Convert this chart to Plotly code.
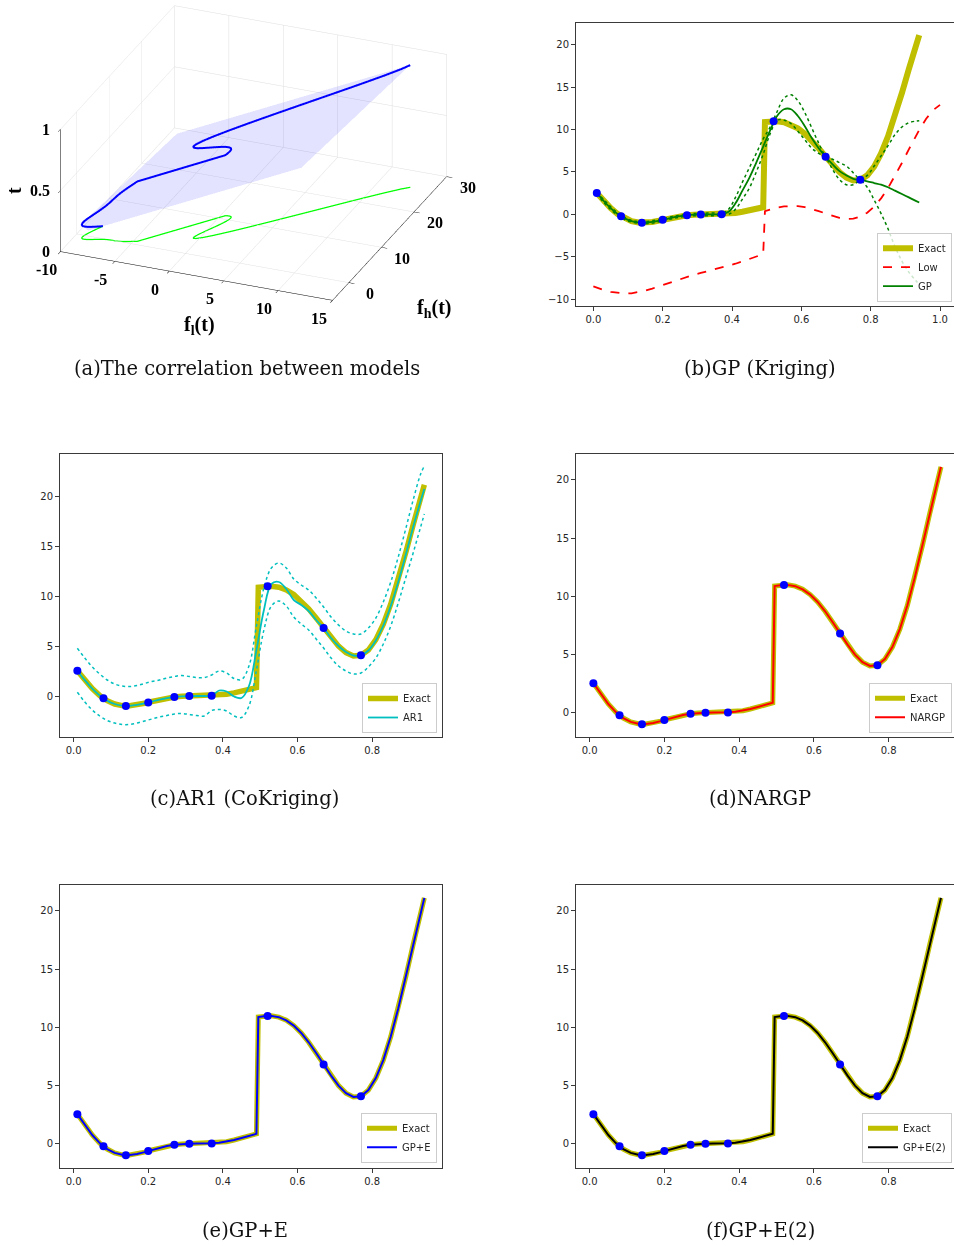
import plotly.graph_objects as go

# ---------------- data ----------------
# common x grid for the high-fidelity curves
x_grid = [0.01, 0.03, 0.05, 0.07, 0.09, 0.11, 0.13, 0.15, 0.17, 0.19, 0.21, 0.23, 0.25,
          0.27, 0.29, 0.31, 0.33, 0.35, 0.37, 0.39, 0.41, 0.43, 0.45, 0.47, 0.49, 0.495,
          0.51, 0.53, 0.55, 0.57, 0.59, 0.61, 0.63, 0.65, 0.67, 0.69, 0.71, 0.73, 0.75,
          0.77, 0.79, 0.81, 0.83, 0.85, 0.87, 0.89, 0.91, 0.93, 0.94]
y_exact = [2.533, 1.583, 0.738, 0.046, -0.469, -0.800, -0.961, -0.978, -0.889, -0.731,
           -0.545, -0.364, -0.210, -0.100, -0.034, -0.005, 0.000, 0.002, 0.021, 0.073,
           0.168, 0.308, 0.483, 0.671, 0.841, 10.877,
           10.958, 10.980, 10.871, 10.599, 10.146, 9.511, 8.713, 7.791, 6.808, 5.843,
           4.986, 4.342, 4.007, 4.070, 4.598, 5.634, 7.180, 9.201, 11.619, 14.312,
           17.118, 19.853, 21.122]

# low-fidelity model
x_low = [0.0, 0.01, 0.03, 0.05, 0.07, 0.09, 0.11, 0.13, 0.15, 0.17, 0.19, 0.21, 0.23, 0.25,
         0.27, 0.29, 0.31, 0.33, 0.35, 0.37, 0.39, 0.41, 0.43, 0.45, 0.47, 0.49, 0.495,
         0.51, 0.53, 0.55, 0.57, 0.59, 0.61, 0.63, 0.65, 0.67, 0.69, 0.71, 0.73, 0.75,
         0.77, 0.79, 0.81, 0.83, 0.85, 0.87, 0.89, 0.91, 0.93, 0.94, 0.96, 0.98, 1.0]
y_low = [-8.486, -8.634, -8.909, -9.131, -9.277, -9.335, -9.300, -9.181, -8.989, -8.745,
         -8.466, -8.173, -7.882, -7.605, -7.350, -7.117, -6.903, -6.700, -6.499, -6.290,
         -6.064, -5.816, -5.546, -5.259, -4.965, -4.680, 0.389,
         0.579, 0.790, 0.936, 0.999, 0.973, 0.856, 0.657, 0.396, 0.104, -0.179, -0.407,
         -0.529, -0.497, -0.265, 0.199, 0.917, 1.890, 3.101, 4.510, 6.056, 7.659, 9.227,
         9.961, 11.277, 12.294, 12.915]

# grid for the smooth surrogate predictions
x_pred = [0.01, 0.03, 0.05, 0.07, 0.09, 0.11, 0.13, 0.15, 0.17, 0.19, 0.21, 0.23, 0.25,
          0.27, 0.29, 0.31, 0.33, 0.35, 0.37, 0.39, 0.41, 0.43, 0.45, 0.47, 0.49,
          0.51, 0.53, 0.55, 0.57, 0.59, 0.61, 0.63, 0.65, 0.67, 0.69, 0.71, 0.73, 0.75,
          0.77, 0.79, 0.81, 0.83, 0.85, 0.87, 0.89, 0.91, 0.93, 0.94]

# GP (Kriging) mean and bounds
gp_mean = [2.53, 1.58, 0.74, 0.05, -0.47, -0.80, -0.96, -0.98, -0.89, -0.73, -0.55, -0.36,
           -0.21, -0.10, -0.03, -0.01, 0.00, 0.00, 0.02, 0.30, 1.30, 2.80, 4.30, 6.10, 8.00,
           9.90, 11.60, 12.40, 12.40, 11.60, 10.40, 9.00, 7.80, 6.80, 5.90, 5.10, 4.60, 4.20,
           4.07, 3.90, 3.70, 3.50, 3.20, 2.80, 2.40, 2.00, 1.60, 1.40]
gp_upper = [2.60, 1.75, 0.90, 0.20, -0.35, -0.70, -0.85, -0.85, -0.75, -0.60, -0.42, -0.24,
            -0.10, 0.00, 0.10, 0.12, 0.15, 0.15, 0.10, 0.60, 2.00, 3.80, 5.50, 7.20, 8.90,
            10.30, 12.10, 13.70, 14.10, 13.40, 12.00, 10.20, 8.40, 6.90, 6.50, 6.10, 5.70,
            4.90, 4.17, 4.60, 5.70, 6.90, 8.10, 9.40, 10.30, 10.80, 11.00, 11.05]
gp_lower = [2.45, 1.40, 0.58, -0.10, -0.60, -0.90, -1.07, -1.10, -1.03, -0.86, -0.68, -0.48,
            -0.32, -0.20, -0.16, -0.14, -0.15, -0.15, -0.06, 0.00, 0.60, 1.80, 3.10, 5.00,
            7.10, 9.50, 11.10, 11.10, 10.70, 9.80, 8.80, 7.80, 7.20, 6.70, 5.30, 4.10, 3.50,
            3.50, 3.97, 3.20, 1.70, 0.10, -1.70, -3.80, -5.50, -6.80, -7.80, -8.25]

# AR1 (CoKriging) mean and bounds
ar1_mean = [2.53, 1.58, 0.74, 0.05, -0.47, -0.80, -0.96, -0.98, -0.89, -0.73, -0.55, -0.36,
            -0.21, -0.10, -0.03, -0.01, 0.00, 0.00, 0.02, 0.55, 0.45, -0.05, -0.20, 1.00,
            4.60, 8.60, 11.20, 11.40, 10.70, 9.60, 9.10, 8.50, 7.60, 6.80, 5.80, 5.00, 4.40,
            4.05, 4.07, 4.55, 5.55, 7.05, 9.00, 11.40, 14.10, 16.90, 19.50, 20.70]
ar1_upper = [4.77, 3.80, 2.90, 2.20, 1.60, 1.20, 1.00, 0.95, 1.05, 1.25, 1.45, 1.60, 1.80,
             1.95, 2.05, 1.95, 1.85, 1.85, 2.10, 2.50, 2.30, 1.75, 1.65, 3.00, 7.00, 10.80,
             12.80, 13.30, 12.80, 11.70, 11.10, 10.60, 9.80, 8.90, 7.90, 7.10, 6.50, 6.20,
             6.20, 6.80, 7.80, 9.40, 11.40, 13.90, 16.70, 19.60, 22.20, 23.00]
ar1_lower = [0.37, -0.60, -1.40, -2.00, -2.45, -2.70, -2.85, -2.85, -2.70, -2.50, -2.30,
             -2.10, -1.95, -1.80, -1.75, -1.85, -1.95, -2.00, -1.45, -1.35, -1.50, -2.00,
             -2.15, -1.00, 2.60, 6.60, 9.00, 9.50, 9.00, 7.90, 7.20, 6.60, 5.70, 4.80, 3.80,
             3.00, 2.50, 2.20, 2.30, 2.90, 3.80, 5.20, 7.00, 9.30, 11.80, 14.30, 16.90, 18.20]

# NARGP / GP+E / GP+E(2) predictions coincide with the exact curve
nargp_mean = y_exact
gpe_mean = y_exact
gpe2_mean = y_exact

# high-fidelity observations
x_obs = [0.01, 0.08, 0.14, 0.20, 0.27, 0.31, 0.37, 0.52, 0.67, 0.77]
y_obs = [2.53, -0.23, -0.99, -0.64, -0.10, -0.01, 0.02, 10.98, 6.81, 4.07]

# 3-D correlation curve (f_l(t), f_h(t), t)
t_3d = x_low
fl_3d = y_low
fh_3d = [3.027] + y_exact + [23.354, 24.988, 25.830]
# plane patch f_h = 2 f_l - 20 t + 20 over the data box, clipped to 0 <= t <= 1
plane_fl = [-9.34, -0.50, 12.90, 2.90, -9.34]
plane_fh = [-0.99, -0.99, 25.83, 25.83, 1.32]
plane_t = [0.116, 1.0, 1.0, 0.0, 0.0]

# 3-D axis ticks
fl_ticks = [-10, -5, 0, 5, 10, 15]
fh_ticks = [0, 10, 20, 30]
t_ticks = [0, 0.5, 1]
t_tick_text = ['0', '0.5', '1']

captions = ["(a)The correlation between models", "(b)GP (Kriging)", "(c)AR1 (CoKriging)",
            "(d)NARGP", "(e)GP+E", "(f)GP+E(2)"]

# ---------------- styling ----------------
W, H = 954, 1246
C_EXACT = '#bfbf00'
C_DOT = '#0000ff'
FL_RANGE = [-10, 15]
FH_RANGE = [-5, 30]
T_RANGE = [0, 1]


def px(xp):
    return xp / W


def py(yp):
    return 1 - yp / H


fig = go.Figure()

# ---- (a) 3-D ----
fig.add_trace(go.Mesh3d(x=plane_fl, y=plane_fh, z=plane_t, i=[0, 0, 0], j=[1, 2, 3], k=[2, 3, 4],
                        color='blue', opacity=0.11, flatshading=True,
                        lighting=dict(ambient=1, diffuse=0, specular=0, roughness=1, fresnel=0),
                        hoverinfo='skip', showscale=False, scene='scene', showlegend=False))
fig.add_trace(go.Scatter3d(x=fl_3d, y=fh_3d, z=[0] * len(t_3d), mode='lines',
                           line=dict(color='#00ff00', width=2.5), scene='scene', showlegend=False))
fig.add_trace(go.Scatter3d(x=fl_3d, y=fh_3d, z=t_3d, mode='lines',
                           line=dict(color='#0000ff', width=4), scene='scene', showlegend=False))


def add_panel(n, traces, leg):
    xa = 'x' if n == 1 else f'x{n}'
    ya = 'y' if n == 1 else f'y{n}'
    for tr in traces:
        tr.update(xaxis=xa, yaxis=ya, legend=leg)
        fig.add_trace(tr)


def exact_tr(width, show=True):
    return go.Scatter(x=x_grid, y=y_exact, mode='lines', name='Exact',
                      line=dict(color=C_EXACT, width=width), showlegend=show)


def obs_tr():
    return go.Scatter(x=x_obs, y=y_obs, mode='markers', marker=dict(color=C_DOT, size=8),
                      showlegend=False)


def dotted(y, color):
    return go.Scatter(x=x_pred, y=y, mode='lines', line=dict(color=color, width=1.5, dash='dot',
                      shape='spline'), showlegend=False)


# (b) GP
add_panel(1, [
    exact_tr(6),
    go.Scatter(x=x_low, y=y_low, mode='lines', name='Low',
               line=dict(color='#ff0000', width=1.8, dash='dash')),
    go.Scatter(x=x_pred, y=gp_mean, mode='lines', name='GP',
               line=dict(color='#008000', width=1.8, shape='spline')),
    dotted(gp_upper, '#008000'),
    dotted(gp_lower, '#008000'),
    obs_tr(),
], 'legend')

# (c) AR1
add_panel(2, [
    exact_tr(5.5),
    go.Scatter(x=x_pred, y=ar1_mean, mode='lines', name='AR1',
               line=dict(color='#00bfbf', width=1.8, shape='spline')),
    dotted(ar1_upper, '#00bfbf'),
    dotted(ar1_lower, '#00bfbf'),
    obs_tr(),
], 'legend2')

# (d) NARGP
add_panel(3, [
    exact_tr(5),
    go.Scatter(x=x_grid, y=nargp_mean, mode='lines', name='NARGP',
               line=dict(color='#ff0000', width=2)),
    obs_tr(),
], 'legend3')

# (e) GP+E
add_panel(4, [
    exact_tr(5),
    go.Scatter(x=x_grid, y=gpe_mean, mode='lines', name='GP+E',
               line=dict(color='#0000ff', width=2)),
    obs_tr(),
], 'legend4')

# (f) GP+E(2)
add_panel(5, [
    exact_tr(5),
    go.Scatter(x=x_grid, y=gpe2_mean, mode='lines', name='GP+E(2)',
               line=dict(color='#000000', width=2)),
    obs_tr(),
], 'legend5')


def xax(dom, rng, vals, anchor, mirror=True):
    return dict(domain=dom, range=rng, tickvals=vals, tickformat='.1f', showline=True,
                anchor=anchor, linecolor='#3a3a3a', linewidth=1, mirror=mirror,
                ticks='outside', ticklen=4, tickcolor='#3a3a3a', showgrid=False, zeroline=False,
                tickfont=dict(family='DejaVu Sans', size=10, color='#262626'))


def yax(dom, rng, vals, anchor, mirror=True):
    return dict(domain=dom, range=rng, tickvals=vals, showline=True, anchor=anchor,
                linecolor='#3a3a3a', linewidth=1, mirror=mirror, ticks='outside', ticklen=4,
                tickcolor='#3a3a3a', showgrid=False, zeroline=False,
                tickfont=dict(family='DejaVu Sans', size=10, color='#262626'))


LX = [px(60), px(441.7)]
RX = [px(576), 1.0]
ROW1 = [py(306), py(22.7)]
ROW2 = [py(736.7), py(454)]
ROW3 = [py(1167.7), py(885)]
XT8 = [0.0, 0.2, 0.4, 0.6, 0.8]
YT20 = [0, 5, 10, 15, 20]


def legend(xr, yb):
    return dict(x=px(xr), y=py(yb), xanchor='right', yanchor='bottom',
                bgcolor='rgba(255,255,255,0.8)', bordercolor='#cccccc', borderwidth=1,
                font=dict(family='DejaVu Sans', size=10, color='#262626'),
                itemwidth=30, tracegroupgap=0)


ax3 = dict(showbackground=False, gridcolor='#dedede', gridwidth=1, showline=True,
           linecolor='black', ticks='outside', tickcolor='black', ticklen=6, zeroline=False,
           showspikes=False, showticklabels=False, title=dict(text=''))

tick_font3 = dict(family='Liberation Serif', size=16, color='black', weight='bold')
title_font3 = dict(family='Liberation Serif', size=20, color='black', weight='bold')
ann3 = []
for v in fl_ticks:
    ann3.append(dict(x=v, y=FH_RANGE[0], z=0, text=f'{v}', showarrow=False,
                     xshift=-14, yshift=-18, font=tick_font3))
for v in fh_ticks:
    ann3.append(dict(x=FL_RANGE[1], y=v, z=0, text=f'{v}', showarrow=False,
                     xshift=21, yshift=-11, font=tick_font3))
for v, s in zip(t_ticks, t_tick_text):
    ann3.append(dict(x=FL_RANGE[0], y=FH_RANGE[0], z=v, text=s, showarrow=False,
                     xanchor='right', xshift=-8, font=tick_font3))
ann3.append(dict(x=sum(FL_RANGE) / 2, y=FH_RANGE[0], z=0, text='<b>f<sub>l</sub>(t)</b>',
                 showarrow=False, xshift=3, yshift=-50, font=title_font3))
ann3.append(dict(x=FL_RANGE[1], y=sum(FH_RANGE) / 2, z=0, text='<b>f<sub>h</sub>(t)</b>',
                 showarrow=False, xshift=44, yshift=-70, font=title_font3))
ann3.append(dict(x=FL_RANGE[0], y=FH_RANGE[0], z=0.5, text='<b>t</b>', textangle=-90,
                 showarrow=False, xshift=-46, font=title_font3))

fig.update_layout(
    width=W, height=H, margin=dict(l=0, r=0, t=0, b=0),
    paper_bgcolor='white', plot_bgcolor='white',
    xaxis=xax(RX, [-0.05, 1.0403], [0.0, 0.2, 0.4, 0.6, 0.8, 1.0], 'y'),
    yaxis=yax(ROW1, [-10.8, 22.6], [-10, -5, 0, 5, 10, 15, 20], 'x', mirror=False),
    xaxis2=xax(LX, [-0.0365, 0.9865], XT8, 'y2'),
    yaxis2=yax(ROW2, [-4.07, 24.2], YT20, 'x2'),
    xaxis3=xax(RX, [-0.0365, 0.9749], XT8, 'y3'),
    yaxis3=yax(ROW2, [-2.07, 22.23], YT20, 'x3', mirror=False),
    xaxis4=xax(LX, [-0.0365, 0.9865], XT8, 'y4'),
    yaxis4=yax(ROW3, [-2.07, 22.23], YT20, 'x4'),
    xaxis5=xax(RX, [-0.0365, 0.9749], XT8, 'y5'),
    yaxis5=yax(ROW3, [-2.07, 22.23], YT20, 'x5', mirror=False),
    legend=legend(952, 301.7),
    legend2=legend(437, 733),
    legend3=legend(952, 732.7),
    legend4=legend(437, 1162.7),
    legend5=legend(952, 1162.7),
    scene=dict(
        domain=dict(x=[px(5), px(502)], y=[py(306), 1.0]),
        xaxis=dict(ax3, range=FL_RANGE, tickvals=fl_ticks),
        yaxis=dict(ax3, range=FH_RANGE, tickvals=fh_ticks),
        zaxis=dict(ax3, range=T_RANGE, tickvals=t_ticks),
        aspectmode='manual', aspectratio=dict(x=1.92, y=1.98, z=0.89),
        camera=dict(eye=dict(x=0.338, y=-0.832, z=0.441), up=dict(x=0, y=0, z=1),
                    center=dict(x=0, y=0, z=0), projection=dict(type='orthographic')),
        annotations=ann3,
    ),
)

cap_pos = [(247, 368), (760, 368), (245, 799), (760, 799), (245, 1230), (760, 1230)]
for txt, (cx, cy) in zip(captions, cap_pos):
    fig.add_annotation(text=txt, x=px(cx), y=py(cy), xref='paper', yref='paper',
                       showarrow=False, xanchor='center', yanchor='middle',
                       font=dict(family='DejaVu Serif', size=19.5, color='#111'))

fig.write_html("out.html", config={'displayModeBar': False},
               post_script="document.body.style.margin='0px';"
                           "document.body.style.overflow='hidden';")
